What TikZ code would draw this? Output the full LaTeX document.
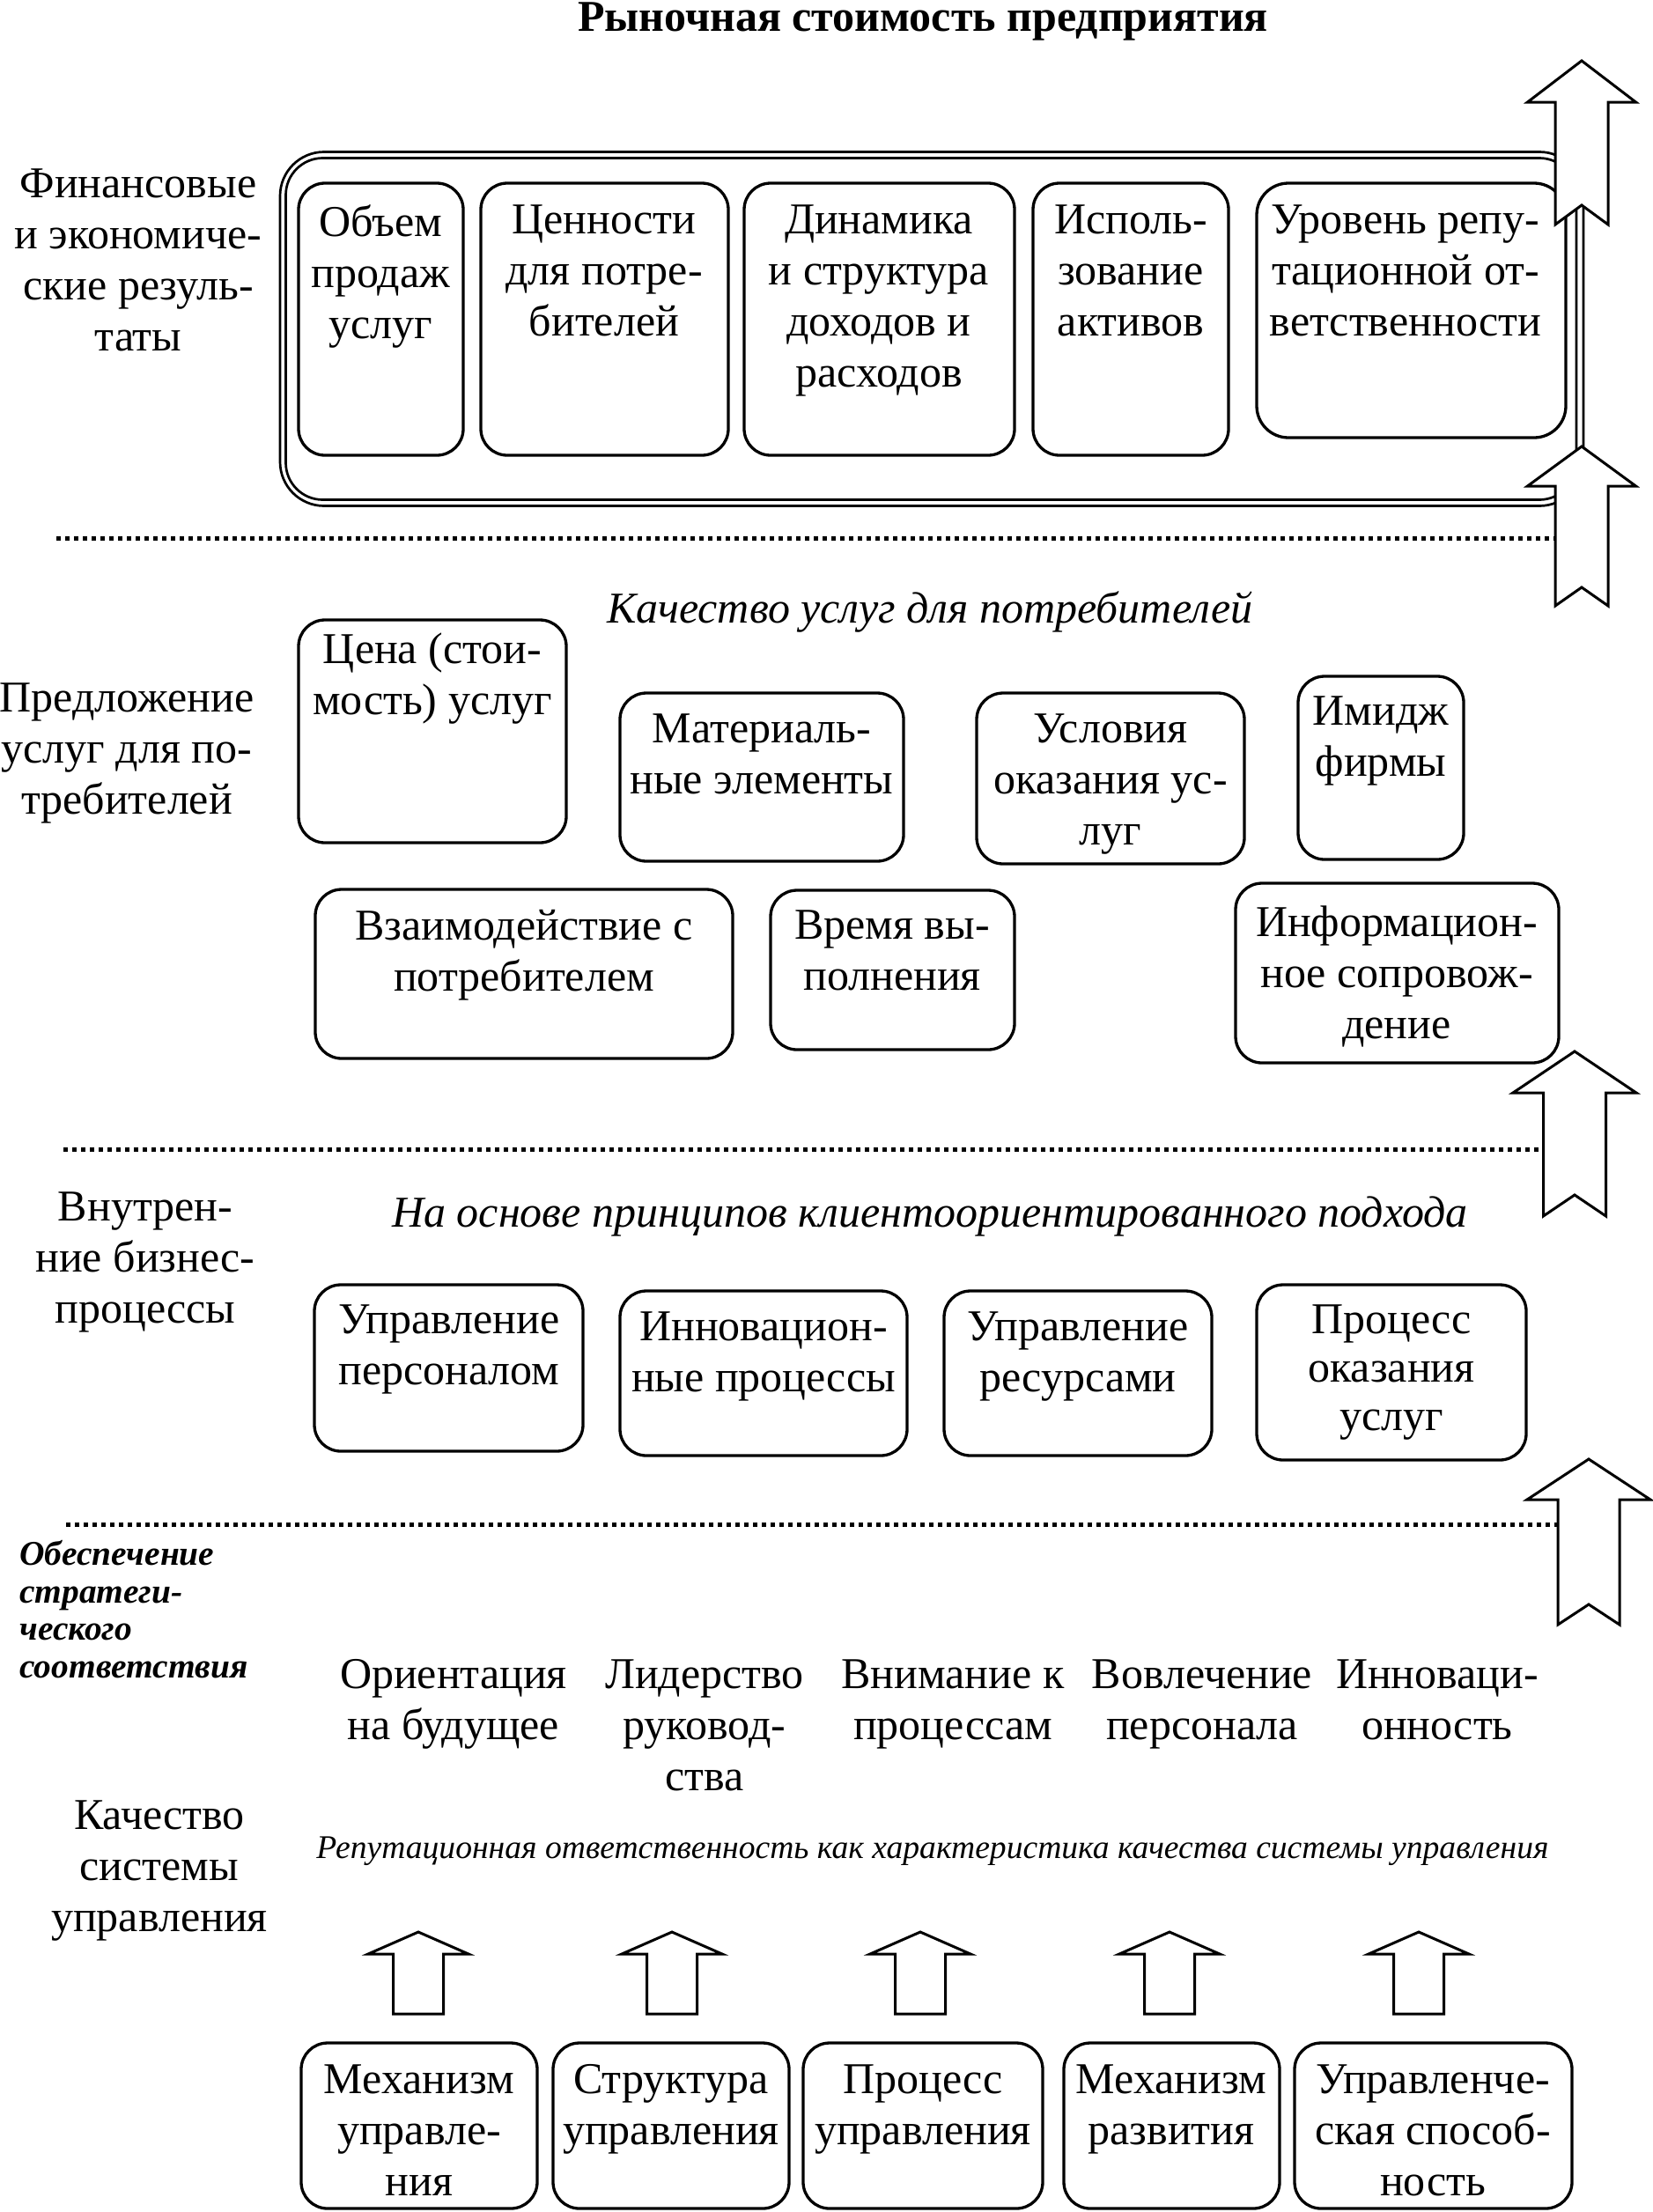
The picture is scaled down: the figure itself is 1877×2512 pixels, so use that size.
\documentclass[tikz,border=0pt]{standalone}
\usepackage{fontspec}
\setmainfont{Liberation Serif}
\usetikzlibrary{fit}
\newcommand\blockarrow[7]{%
  \draw[arrline] (#1,#2) -- ({#1+#3},{#2+#4}) -- ({#1+#5},{#2+#4}) -- ({#1+#5},{#2+#6})
    -- (#1,{#2+#6-#7}) -- ({#1-#5},{#2+#6}) -- ({#1-#5},{#2+#4}) -- ({#1-#3},{#2+#4}) -- cycle;}
\begin{document}
\begin{tikzpicture}[x=0.5pt,y=-0.5pt,
  box/.style={draw, line width=1.65pt, rounded corners=15pt, inner sep=0pt},
  dline/.style={draw, line width=1.35pt, inner sep=0pt},
  txt/.style={font=\fontsize{25}{29}\selectfont, align=center, inner sep=0pt, anchor=north,
    yshift=-7pt, execute at begin node={\rule{0pt}{24pt}}},
  itxt/.style={font=\fontsize{25}{29}\selectfont\itshape, inner sep=0pt, anchor=base},
  sitxt/.style={font=\fontsize{18.8}{22}\selectfont\itshape, inner sep=0pt, anchor=base},
  bitxt/.style={font=\fontsize{19.7}{21.25}\selectfont\bfseries\itshape, align=left, inner sep=0pt,
    anchor=north west, yshift=-5.5pt, execute at begin node={\rule{0pt}{17pt}}},
  dotline/.style={line width=2.5pt, dash pattern=on 2.5pt off 2.5pt},
  arrline/.style={draw, fill=white, line width=1.5pt, line join=miter}]
\useasboundingbox (0,0) rectangle (1877,2512);
\fill[white] (0,0) rectangle (1877,2512);

% title
\node[font=\fontsize{25}{29}\selectfont\bfseries, anchor=base, inner sep=0pt] (title) at (1048,35) {Рыночная стоимость предприятия};

% ---- section 1
\node[txt] (l1) at (157,177) {Финансовые\\и экономиче-\\ские резуль-\\таты};
\node[dline, rounded corners=25pt, fit={(318,172.5) (1798,574.5)}] (fo) {};
\node[dline, rounded corners=21pt, fit={(324.5,179.5) (1790,567.5)}] (fi) {};
\node[box, fit={(339,208) (526,517)}] (f1) {};
\node[box, fit={(546,208) (827,517)}] (f2) {};
\node[box, fit={(845,208) (1152,517)}] (f3) {};
\node[box, fit={(1173,208) (1395,517)}] (f4) {};
\node[box, rounded corners=18pt, fit={(1427,208) (1778,497)}] (f5) {};
\node[txt] (f1t) at (432,218) {Объем\\продаж\\услуг};
\node[txt] (f2t) at (686,218) {Ценности\\для потре-\\бителей};
\node[txt] (f3t) at (998,218) {Динамика\\и структура\\доходов и\\расходов};
\node[txt] (f4t) at (1284,218) {Исполь-\\зование\\активов};
\node[txt] (f5t) at (1596,218) {Уровень репу-\\тационной от-\\ветственности};

\draw[dotline] (64,611) -- (1780,611);

% ---- section 2
\node[txt] (l2) at (144,761) {Предложение\\услуг для по-\\требителей};
\node[itxt] (q2) at (1056,707) {Качество услуг для потребителей};
\node[box, fit={(339,704) (643,957)}] (b21) {};
\node[box, fit={(704,787) (1026,978)}] (b22) {};
\node[box, fit={(1109,787) (1413,981)}] (b23) {};
\node[box, fit={(1474,768) (1662,976)}] (b24) {};
\node[box, fit={(358,1010) (832,1202)}] (b25) {};
\node[box, fit={(875,1011) (1152,1192)}] (b26) {};
\node[box, fit={(1403,1003) (1770,1207)}] (b27) {};
\node[txt] (b21t) at (491,704) {Цена (стои-\\мость) услуг};
\node[txt] (b22t) at (865,796) {Материаль-\\ные элементы};
\node[txt] (b23t) at (1261,796) {Условия\\оказания ус-\\луг};
\node[txt] (b24t) at (1568,776) {Имидж\\фирмы};
\node[txt] (b25t) at (595,1019) {Взаимодействие с\\потребителем};
\node[txt] (b26t) at (1013,1019) {Время вы-\\полнения};
\node[txt] (b27t) at (1586,1014) {Информацион-\\ное сопровож-\\дение};

\draw[dotline] (72,1305) -- (1770,1305);

% ---- section 3
\node[txt] (l3) at (165,1339) {Внутрен-\\ние бизнес-\\процессы};
\node[itxt] (q3) at (1056,1393) {На основе принципов клиентоориентированного подхода};
\node[box, fit={(357,1459) (662,1648)}] (b31) {};
\node[box, fit={(704,1466) (1030,1653)}] (b32) {};
\node[box, fit={(1072,1466) (1376,1653)}] (b33) {};
\node[box, fit={(1427,1459) (1733,1658)}] (b34) {};
\node[txt] (b31t) at (510,1467) {Управление\\персоналом};
\node[txt] (b32t) at (867,1475) {Инновацион-\\ные процессы};
\node[txt] (b33t) at (1224,1475) {Управление\\ресурсами};
\node[txt, font=\fontsize{25}{27.5}\selectfont] (b34t) at (1580,1467) {Процесс\\оказания\\услуг};

\draw[dotline] (75,1731) -- (1780,1731);

% ---- section 4
\node[bitxt] (s4) at (22,1738) {Обеспечение\\стратеги-\\ческого\\соответствия};
\node[txt] (c1) at (515,1870) {Ориентация\\на будущее};
\node[txt] (c2) at (800,1870) {Лидерство\\руковод-\\ства};
\node[txt] (c3) at (1082,1870) {Внимание к\\процессам};
\node[txt] (c4) at (1365,1870) {Вовлечение\\персонала};
\node[txt] (c5) at (1632,1870) {Инноваци-\\онность};
\node[txt] (l4) at (181,2030) {Качество\\системы\\управления};
\node[sitxt] (q4) at (1059,2110) {Репутационная ответственность как характеристика качества системы управления};

\node[box, fit={(342,2320) (610,2508)}] (m1) {};
\node[box, fit={(628,2320) (896,2508)}] (m2) {};
\node[box, fit={(912,2320) (1184,2508)}] (m3) {};
\node[box, fit={(1208,2320) (1453,2508)}] (m4) {};
\node[box, fit={(1470,2320) (1785,2508)}] (m5) {};
\node[txt] (m1t) at (476,2330) {Механизм\\управле-\\ния};
\node[txt] (m2t) at (762,2330) {Структура\\управления};
\node[txt] (m3t) at (1048,2330) {Процесс\\управления};
\node[txt] (m4t) at (1330,2330) {Механизм\\развития};
\node[txt] (m5t) at (1627,2330) {Управленче-\\ская способ-\\ность};

% ---- block arrows
\blockarrow{1796}{69}{61.5}{47}{30}{186}{22}
\blockarrow{1796}{507}{61.5}{45}{30}{181}{21}
\blockarrow{1788}{1194}{70}{47}{35.5}{187}{24}
\blockarrow{1804}{1657}{70}{46}{35}{188}{23}
\blockarrow{475}{2194}{57}{25}{28.5}{93}{0}
\blockarrow{763}{2194}{57}{25}{28.5}{93}{0}
\blockarrow{1045}{2194}{57}{25}{28.5}{93}{0}
\blockarrow{1328}{2194}{57}{25}{28.5}{93}{0}
\blockarrow{1611}{2194}{57}{25}{28.5}{93}{0}
\end{tikzpicture}
\end{document}
